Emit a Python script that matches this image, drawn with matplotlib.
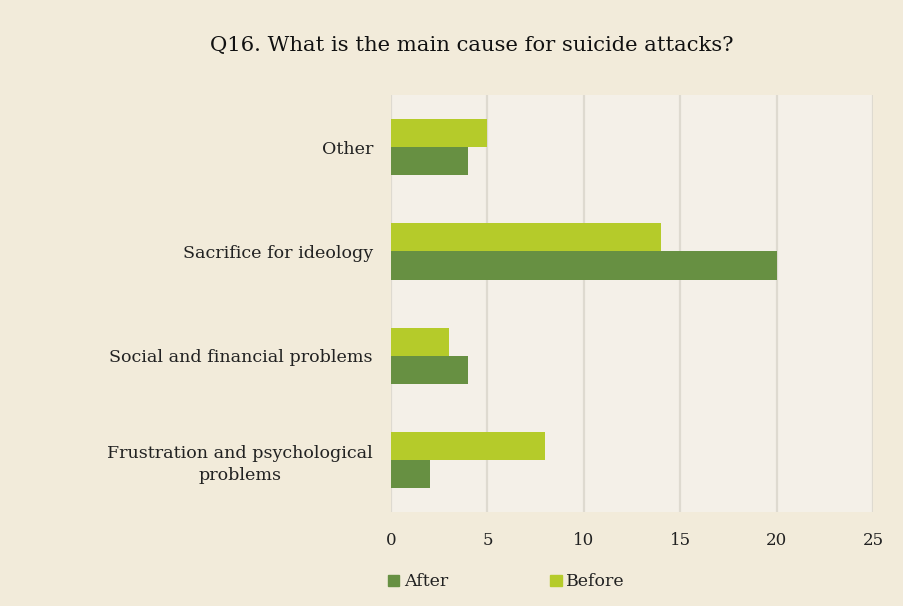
import numpy as np
import matplotlib.pyplot as plt
from matplotlib.patches import Patch

categories = ["Other", "Sacrifice for ideology", "Social and financial problems",
              "Frustration and psychological\nproblems"]
before = [5, 14, 3, 8]
after = [4, 20, 4, 2]
xticks = [0, 5, 10, 15, 20, 25]

c_after = "#679042"
c_before = "#B5CB2A"

plt.rcParams["font.family"] = ["DejaVu Serif"]

fig = plt.figure(figsize=(9.04, 6.06), dpi=100, facecolor="#F2EBDA")
ax = fig.add_axes([0.4325, 0.155, 0.5332, 0.688])
ax.set_facecolor("#F4F0E8")

y = np.arange(len(categories))
h = 0.27
ax.barh(y - h / 2, before, height=h, color=c_before, zorder=3)
ax.barh(y + h / 2, after, height=h, color=c_after, zorder=3)

ax.set_xlim(0, 25)
ax.set_ylim(len(categories) - 0.5, -0.5)
ax.set_xticks(xticks)
ax.set_yticks(y)
ax.set_yticklabels(categories, fontsize=12.6, color="#222222", linespacing=1.35)
for lbl in ax.get_yticklabels():
    lbl.set_horizontalalignment("right")
    lbl.set_multialignment("center")
ax.tick_params(axis="x", length=0, pad=14, labelsize=12, labelcolor="#222222")
ax.tick_params(axis="y", length=0, pad=13)
for x in xticks:
    ax.axvline(x, color="#DEDAD0", lw=1.6, zorder=1)
for s in ax.spines.values():
    s.set_visible(False)

fig.text(0.522, 0.925, "Q16. What is the main cause for suicide attacks?",
         ha="center", va="center", fontsize=15.2, color="#111111")

handles = [Patch(color=c_after, label="After"), Patch(color=c_before, label="Before")]
fig.legend(handles=handles, loc="center left", bbox_to_anchor=(0.412, 1 - 582 / 606),
           ncol=2, frameon=False, fontsize=12.5, handlelength=0.65, handleheight=0.65,
           handletextpad=0.25, columnspacing=5.9, labelcolor="#222222")

fig.savefig("out.png", dpi=100, facecolor=fig.get_facecolor())
